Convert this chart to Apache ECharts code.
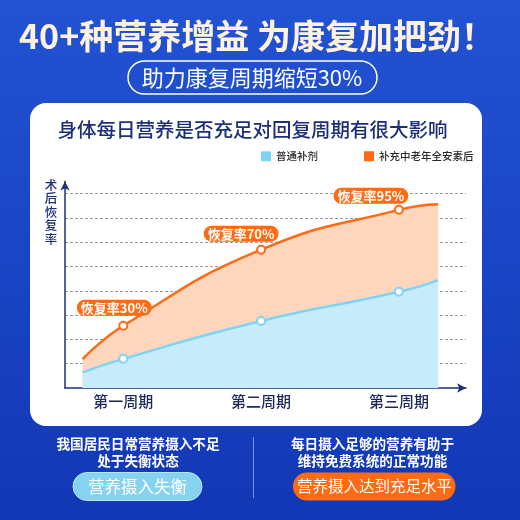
<!DOCTYPE html>
<html><head><meta charset="utf-8">
<script src="https://cdn.jsdelivr.net/npm/echarts@6/dist/echarts.min.js"></script>
<style>html,body{margin:0;padding:0;}#c{width:520px;height:520px;}</style>
</head><body><div id="c"></div>
<script>
// ---- data ----
const categories = ['第一周期', '第二周期', '第三周期'];
const categoryX = [1, 2, 3];
const curveX = [0.705, 1, 2, 3, 3.285];
const orangeValues = [11.9, 25.6, 56.9, 73.3, 75.6];
const blueValues = [6.4, 12.0, 27.6, 39.6, 44.4];
const recoveryLabels = ['恢复率30%', '恢复率70%', '恢复率95%'];
const seriesNames = ['普通补剂', '补充中老年全安素后'];
const yTicks = [0, 10, 20, 30, 40, 50, 60, 70, 80];

const ORANGE = '#ff6a14', BLUE = '#7fd4f6', NAVY = '#1c2f78';
const FONT = '"Noto Sans CJK SC", "Noto Sans", sans-serif';
const labelOffsets = [[-9, -18], [-20, -16], [-28, -14]];

function buildData(vals, withLabels) {
  return vals.map((v, i) => {
    const ci = categoryX.indexOf(curveX[i]);
    const item = { value: [curveX[i], v] };
    if (ci < 0) { item.symbol = 'none'; }
    else if (withLabels) {
      item.label = {
        show: true, position: 'inside', offset: labelOffsets[ci],
        formatter: recoveryLabels[ci]
      };
    }
    return item;
  });
}

const chart = echarts.init(document.getElementById('c'));
chart.setOption({
  backgroundColor: { type: 'linear', x: 0, y: 0, x2: 0, y2: 1,
    colorStops: [{ offset: 0, color: '#2253d3' }, { offset: 1, color: '#1237b5' }] },
  textStyle: { fontFamily: FONT },
  animation: false,
  graphic: [
    { type: 'rect', z: -10, shape: { x: 30, y: 103, width: 452, height: 323, r: 16 }, style: { fill: '#fff' } },
    { type: 'text', x: 257, y: 36, style: { text: '40+种营养增益 为康复加把劲！', font: 'bold 34px ' + FONT,
      align: 'center', verticalAlign: 'middle', fill: '#fff3df' } },
    { type: 'rect', shape: { x: 128, y: 61, width: 249, height: 33, r: 16.5 }, style: { fill: 'none', stroke: '#fff', lineWidth: 1.5 } },
    { type: 'text', x: 252, y: 78, style: { text: '助力康复周期缩短30%', font: '22px ' + FONT, fill: '#fff', align: 'center', verticalAlign: 'middle' } },
    { type: 'text', x: 252.5, y: 130, style: { text: '身体每日营养是否充足对回复周期有很大影响', font: '500 19.5px ' + FONT, fill: NAVY, align: 'center', verticalAlign: 'middle' } },
    { type: 'text', x: 51, y: 178, style: { text: '术\n后\n恢\n复\n率', font: '500 12.5px ' + FONT, lineHeight: 13.5, fill: NAVY, align: 'center', verticalAlign: 'top' } },
    { type: 'text', x: 138, y: 444, style: { text: '我国居民日常营养摄入不足', font: 'bold 13.6px ' + FONT, fill: '#fff', align: 'center', verticalAlign: 'middle' } },
    { type: 'text', x: 138, y: 461, style: { text: '处于失衡状态', font: 'bold 13.6px ' + FONT, fill: '#fff', align: 'center', verticalAlign: 'middle' } },
    { type: 'text', x: 372.5, y: 444, style: { text: '每日摄入足够的营养有助于', font: 'bold 13.6px ' + FONT, fill: '#fff', align: 'center', verticalAlign: 'middle' } },
    { type: 'text', x: 372.5, y: 461, style: { text: '维持免费系统的正常功能', font: 'bold 13.6px ' + FONT, fill: '#fff', align: 'center', verticalAlign: 'middle' } },
    { type: 'line', shape: { x1: 253.5, y1: 437, x2: 253.5, y2: 498 }, style: { stroke: 'rgba(255,255,255,0.45)', lineWidth: 1 } },
    { type: 'rect', shape: { x: 73, y: 472.5, width: 129, height: 28, r: 14 }, style: { fill: '#86d2f1', stroke: '#b5e5f8', lineWidth: 1 } },
    { type: 'text', x: 137.5, y: 486.5, style: { text: '营养摄入失衡', font: '16.5px ' + FONT, fill: '#fff', align: 'center', verticalAlign: 'middle' } },
    { type: 'rect', shape: { x: 293, y: 472.5, width: 162.5, height: 28, r: 14 }, style: { fill: ORANGE } },
    { type: 'text', x: 374.5, y: 486.5, style: { text: '营养摄入达到充足水平', font: '15.5px ' + FONT, fill: '#fff', align: 'center', verticalAlign: 'middle' } }
  ],
  legend: {
    left: 261, top: 151, padding: 0, itemWidth: 10, itemHeight: 10, itemGap: 46, icon: 'rect',
    textStyle: { fontSize: 10.5, color: '#2a2a2a', fontWeight: 500, fontFamily: FONT },
    selectedMode: false,
    data: [
      { name: seriesNames[0], itemStyle: { color: BLUE, borderWidth: 0 } },
      { name: seriesNames[1], itemStyle: { color: ORANGE, borderWidth: 0 } }
    ]
  },
  grid: { left: 65, right: 54, top: 181.4, bottom: 132, containLabel: false },
  xAxis: {
    type: 'value', min: 0.577, max: 3.487,
    axisLine: { show: true, lineStyle: { color: NAVY, width: 1.5 }, symbol: ['none', 'arrow'], symbolSize: [7, 9] },
    axisTick: { show: false },
    splitLine: { show: false },
    axisLabel: {
      customValues: categoryX, margin: 6, fontSize: 15, fontWeight: 500, color: '#1b2a5a', fontFamily: FONT,
      formatter: v => categories[categoryX.indexOf(v)] || ''
    }
  },
  yAxis: {
    type: 'value', min: yTicks[0], max: 85, interval: yTicks[1] - yTicks[0],
    axisLine: { show: true, lineStyle: { color: NAVY, width: 1.5 }, symbol: ['none', 'arrow'], symbolSize: [7, 9] },
    axisTick: { show: false },
    axisLabel: { show: false },
    splitLine: { show: true, showMinLine: false, showMaxLine: false, lineStyle: { color: '#9a9a9a', type: [3, 2], width: 1 } }
  },
  series: [
    {
      name: seriesNames[1], type: 'line', smooth: 0.5, z: 2,
      data: buildData(orangeValues, true),
      symbol: 'circle', symbolSize: 8,
      lineStyle: { color: ORANGE, width: 2.5 },
      itemStyle: { color: '#fff', borderColor: ORANGE, borderWidth: 2 },
      areaStyle: { color: '#fdd6bd', opacity: 1 },
      label: { color: '#fff', backgroundColor: ORANGE, borderRadius: 8, padding: [1, 4], fontSize: 13, lineHeight: 14, fontWeight: 'bold', fontFamily: FONT },
      emphasis: { disabled: true }
    },
    {
      name: seriesNames[0], type: 'line', smooth: 0.55, z: 3,
      data: buildData(blueValues, false),
      symbol: 'circle', symbolSize: 8,
      lineStyle: { color: BLUE, width: 2.5 },
      itemStyle: { color: '#fff', borderColor: BLUE, borderWidth: 2 },
      areaStyle: { color: '#c6ebfa', opacity: 1 },
      emphasis: { disabled: true }
    }
  ]
});
</script>
</body></html>
